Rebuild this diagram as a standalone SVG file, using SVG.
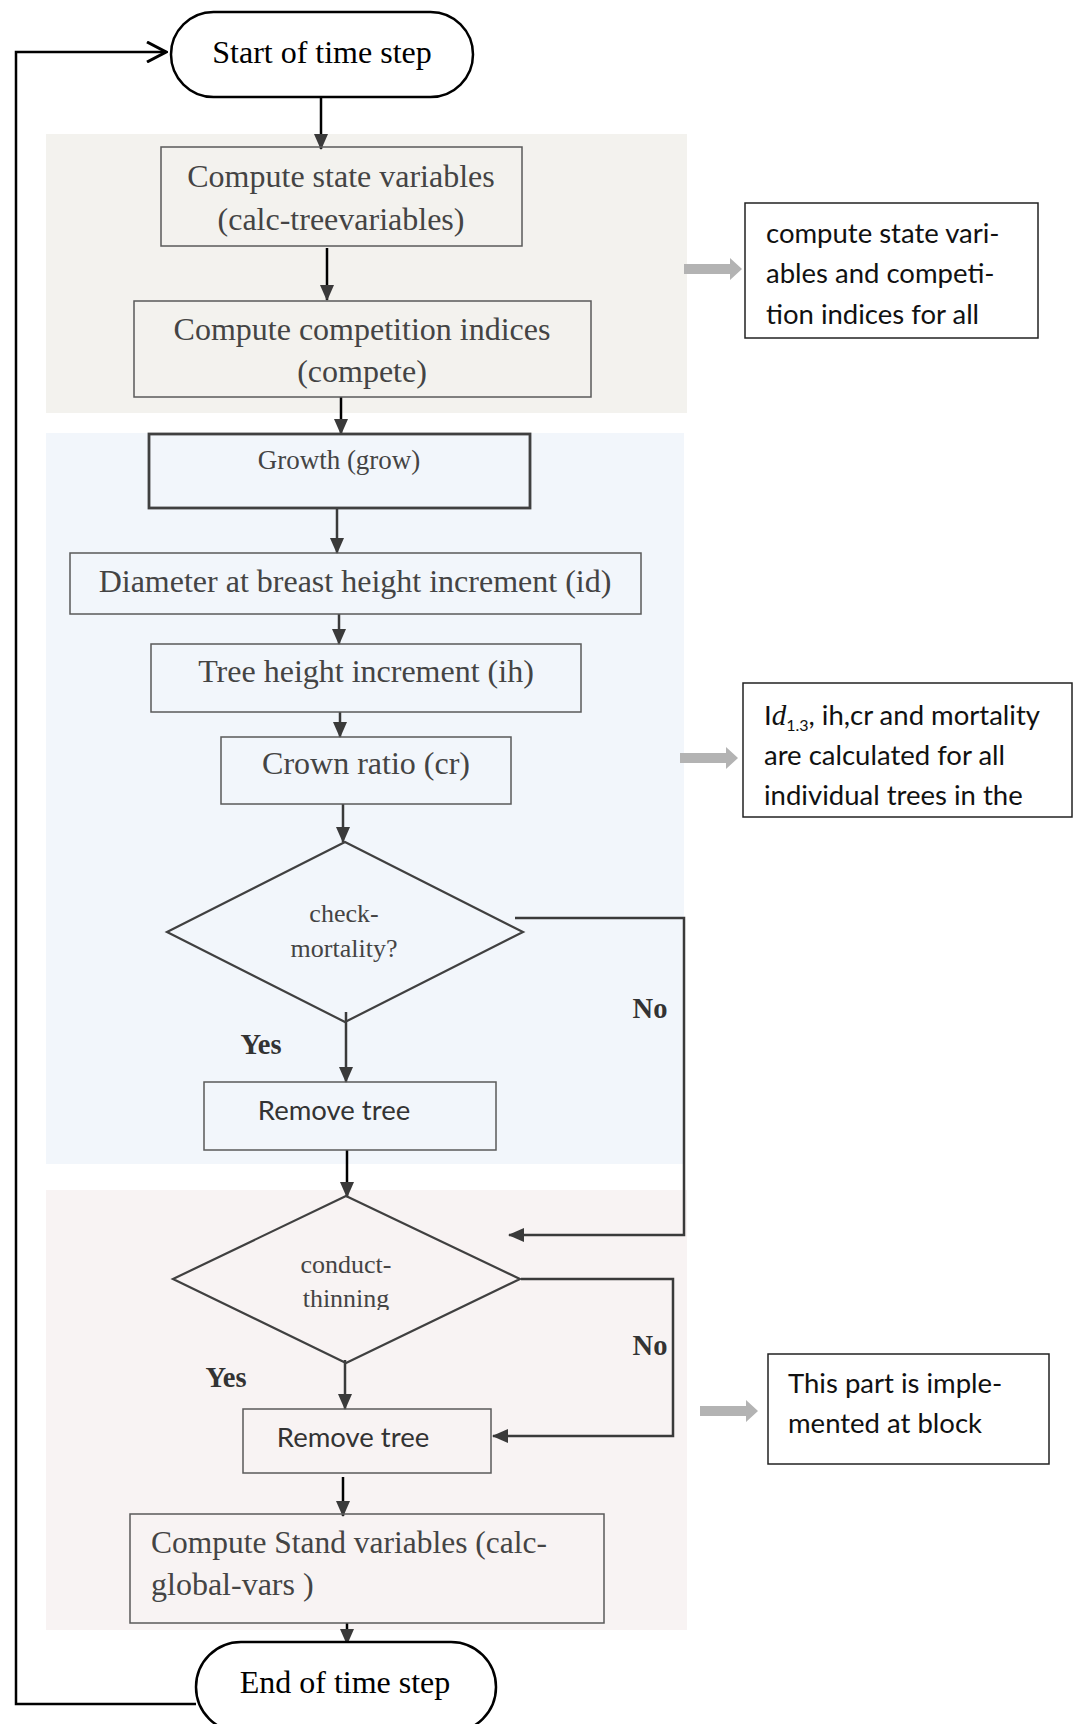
<svg xmlns="http://www.w3.org/2000/svg" width="1080" height="1724" viewBox="0 0 1080 1724">
<style>
.term{fill:#fff;stroke:#000;stroke-width:2.5}
.box{fill:none;stroke:#5a5a5a;stroke-width:1.5}
.note{fill:#fff;stroke:#222;stroke-width:1.5}
.dia{fill:none;stroke:#404040;stroke-width:2.2}
.ser{font-family:"Liberation Serif","Times New Roman",serif;fill:#444}
.blk{fill:#000}
.c32{font-size:32px}
.sans{font-family:Lato,"Liberation Sans",sans-serif;fill:#111;font-size:27.5px}
.lbl{font-family:"Liberation Serif","Times New Roman",serif;font-weight:bold;font-size:28.5px;fill:#333}
.con{fill:none;stroke:#3a3a3a;stroke-width:2.5}
.conk{fill:none;stroke:#000;stroke-width:2.5}
</style>
<defs>
<marker id="ah" viewBox="0 0 16 14" refX="15" refY="7" markerWidth="16" markerHeight="14" markerUnits="userSpaceOnUse" orient="auto">
<path d="M0,0 L16,7 L0,14 z" fill="#3a3a3a"/>
</marker>
<marker id="open" viewBox="0 0 22 22" refX="20" refY="11" markerWidth="22" markerHeight="22" markerUnits="userSpaceOnUse" orient="auto">
<path d="M1,1 L20,11 L1,21" fill="none" stroke="#000" stroke-width="3"/>
</marker>
<path id="garrow" d="M0,-5 H46 V-11 L58,0 L46,11 V5 H0 Z" fill="#b3b3b3"/>
<clipPath id="thinclip"><rect x="150" y="1180" width="400" height="130"/></clipPath>
</defs>

<g id="panels">
<rect x="46" y="134" width="641" height="279" fill="#f3f2ee"/>
<rect x="46" y="433" width="638" height="731" fill="#f2f6fb"/>
<rect x="46" y="1190" width="641" height="440" fill="#f8f3f3"/>
</g>

<g id="connectors">
<path class="conk" d="M196,1704 H16 V52 H166" marker-end="url(#open)"/>
<path class="conk" d="M321,97 V149" marker-end="url(#ah)"/>
<path class="conk" d="M327,248 V300" marker-end="url(#ah)"/>
<path class="conk" d="M341,397 V434" marker-end="url(#ah)"/>
<path class="con" d="M337,508 V553" marker-end="url(#ah)"/>
<path class="con" d="M339,614 V644" marker-end="url(#ah)"/>
<path class="con" d="M340,712 V737" marker-end="url(#ah)"/>
<path class="con" d="M343,804 V842" marker-end="url(#ah)"/>
<path class="con" d="M346,1012 V1082" marker-end="url(#ah)"/>
<path class="conk" d="M347,1150 V1197" marker-end="url(#ah)"/>
<path class="con" d="M515,918 H684 V1235 H509" marker-end="url(#ah)"/>
<path class="con" d="M345,1360 V1409" marker-end="url(#ah)"/>
<path class="con" d="M521,1279 H673 V1436 H493" marker-end="url(#ah)"/>
<path class="conk" d="M343,1477 V1516" marker-end="url(#ah)"/>
<path class="conk" d="M347,1623 V1644" marker-end="url(#ah)"/>
<use href="#garrow" x="684" y="269"/>
<use href="#garrow" x="680" y="758"/>
<use href="#garrow" x="700" y="1411"/>
</g>

<g id="start">
<rect class="term" x="171" y="12" width="302" height="85" rx="42.5"/>
<text class="ser blk c32" x="322" y="63" text-anchor="middle">Start of time step</text>
</g>

<g id="calc-treevariables">
<rect class="box" x="161" y="147" width="361" height="99"/>
<text class="ser c32" x="341" y="187" text-anchor="middle">Compute state variables</text>
<text class="ser c32" x="341" y="230" text-anchor="middle">(calc-treevariables)</text>
</g>

<g id="compete">
<rect class="box" x="134" y="301" width="457" height="96"/>
<text class="ser c32" x="362" y="340" text-anchor="middle">Compute competition indices</text>
<text class="ser c32" x="362" y="382" text-anchor="middle">(compete)</text>
</g>

<g id="grow">
<rect x="149" y="434" width="381" height="74" fill="none" stroke="#404040" stroke-width="2.8"/>
<text class="ser" x="339" y="469" text-anchor="middle" font-size="27">Growth (grow)</text>
</g>

<g id="id">
<rect class="box" x="70" y="553" width="571" height="61"/>
<text class="ser c32" x="355" y="592" text-anchor="middle">Diameter at breast height increment (id)</text>
</g>

<g id="ih">
<rect class="box" x="151" y="644" width="430" height="68"/>
<text class="ser c32" x="366" y="682" text-anchor="middle">Tree height increment (ih)</text>
</g>

<g id="cr">
<rect class="box" x="221" y="737" width="290" height="67"/>
<text class="ser c32" x="366" y="774" text-anchor="middle">Crown ratio (cr)</text>
</g>

<g id="check-mortality">
<polygon class="dia" points="345,842 523,932 345,1022 167,932"/>
<text class="ser" x="344" y="922" text-anchor="middle" font-size="26">check-</text>
<text class="ser" x="344" y="957" text-anchor="middle" font-size="26">mortality?</text>
</g>

<g id="remove-tree-1">
<rect class="box" x="204" y="1082" width="292" height="68"/>
<text class="sans" x="334" y="1120" text-anchor="middle" style="fill:#333">Remove tree</text>
</g>

<g id="conduct-thinning">
<polygon class="dia" points="346,1196 520,1279 346,1363 173,1279"/>
<text class="ser" x="346" y="1273" text-anchor="middle" font-size="26">conduct-</text>
<text class="ser" x="346" y="1307" text-anchor="middle" font-size="26" clip-path="url(#thinclip)">thinning</text>
</g>

<g id="remove-tree-2">
<rect class="box" x="243" y="1409" width="248" height="64"/>
<text class="sans" x="353" y="1447" text-anchor="middle" style="fill:#333">Remove tree</text>
</g>

<g id="calc-global-vars">
<rect class="box" x="130" y="1514" width="474" height="109"/>
<text class="ser c32" x="151" y="1553" textLength="396" lengthAdjust="spacingAndGlyphs">Compute Stand variables (calc-</text>
<text class="ser c32" x="151" y="1595">global-vars )</text>
</g>

<g id="end">
<rect class="term" x="196" y="1642" width="300" height="90" rx="45"/>
<text class="ser blk c32" x="345" y="1693" text-anchor="middle">End of time step</text>
</g>

<g id="labels">
<text class="lbl" x="261" y="1054" text-anchor="middle">Yes</text>
<text class="lbl" x="650" y="1018" text-anchor="middle">No</text>
<text class="lbl" x="226" y="1387" text-anchor="middle">Yes</text>
<text class="lbl" x="650" y="1355" text-anchor="middle">No</text>
</g>

<g id="note-1">
<rect class="note" x="745" y="203" width="293" height="135"/>
<text class="sans" x="766" y="243">compute state vari-</text>
<text class="sans" x="766" y="283">ables and competi-</text>
<text class="sans" x="766" y="324">tion indices for all</text>
</g>

<g id="note-2">
<rect class="note" x="743" y="683" width="329" height="134"/>
<text class="sans" x="764" y="725">I<tspan font-family="Liberation Serif" font-style="italic" font-size="29">d</tspan><tspan font-size="16" dy="6">1.3</tspan><tspan dy="-6">, ih,cr and mortality</tspan></text>
<text class="sans" x="764" y="765">are calculated for all</text>
<text class="sans" x="764" y="805">individual trees in the</text>
</g>

<g id="note-3">
<rect class="note" x="768" y="1354" width="281" height="110"/>
<text class="sans" x="788" y="1393">This part is imple-</text>
<text class="sans" x="788" y="1433">mented at block</text>
</g>
</svg>
